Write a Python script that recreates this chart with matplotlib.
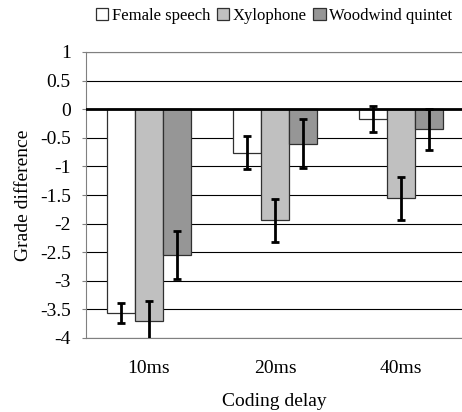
import matplotlib.pyplot as plt
import numpy as np

plt.rcParams['font.family'] = ['Liberation Serif', 'DejaVu Serif']

# data
delays = ['10ms', '20ms', '40ms']
series = ['Female speech', 'Xylophone', 'Woodwind quintet']
female = [-3.56, -0.76, -0.17]
xylo = [-3.71, -1.94, -1.56]
woodwind = [-2.55, -0.60, -0.35]
female_err = [0.18, 0.29, 0.23]
xylo_err = [0.35, 0.375, 0.38]
woodwind_err = [0.42, 0.42, 0.36]

colours = ['white', '#c0c0c0', '#969696']

fig = plt.figure(figsize=(4.62, 4.12), dpi=100)
ax = fig.add_axes([86/462, 74/412, 376/462, 286/412])

x = np.arange(len(delays))
w = 0.222
vals = [female, xylo, woodwind]
errs = [female_err, xylo_err, woodwind_err]
for i in range(3):
    ax.bar(x + (i - 1)*w, vals[i], w, color=colours[i], edgecolor='#303030',
           linewidth=0.9, label=series[i], zorder=2)
    ax.errorbar(x + (i - 1)*w, vals[i], yerr=errs[i], fmt='none', ecolor='black',
                elinewidth=2, capsize=3, capthick=2, zorder=3)

ax.set_ylim(-4, 1)
ax.set_xlim(-0.5, 2.484)
ticks = np.arange(-4, 1.01, 0.5)
ax.set_yticks(ticks)
ax.set_yticklabels(['%g' % v for v in ticks])
ax.yaxis.grid(True, color='black', linewidth=0.8, zorder=0)
ax.set_axisbelow(True)
ax.axhline(0, color='black', linewidth=2, zorder=4)
ax.set_xticks(x)
ax.set_xticklabels(delays)
ax.tick_params(axis='x', length=0, pad=15.5, labelsize=14)
ax.tick_params(axis='y', length=3, color='#808080', pad=8, labelsize=14)
ax.spines['right'].set_visible(False)
for s in ['left', 'bottom', 'top']:
    ax.spines[s].set_color('#808080')
ax.set_xlabel('Coding delay', fontsize=14, labelpad=12)
ax.set_ylabel('Grade difference', fontsize=14, labelpad=6)

fig.legend(loc='center', bbox_to_anchor=(274/462, 1 - 16/412), ncol=3, frameon=False,
           fontsize=12, handlelength=0.75, handleheight=0.75, handletextpad=0.2,
           columnspacing=0.4, borderpad=0)

fig.savefig('out.png', dpi=100)
